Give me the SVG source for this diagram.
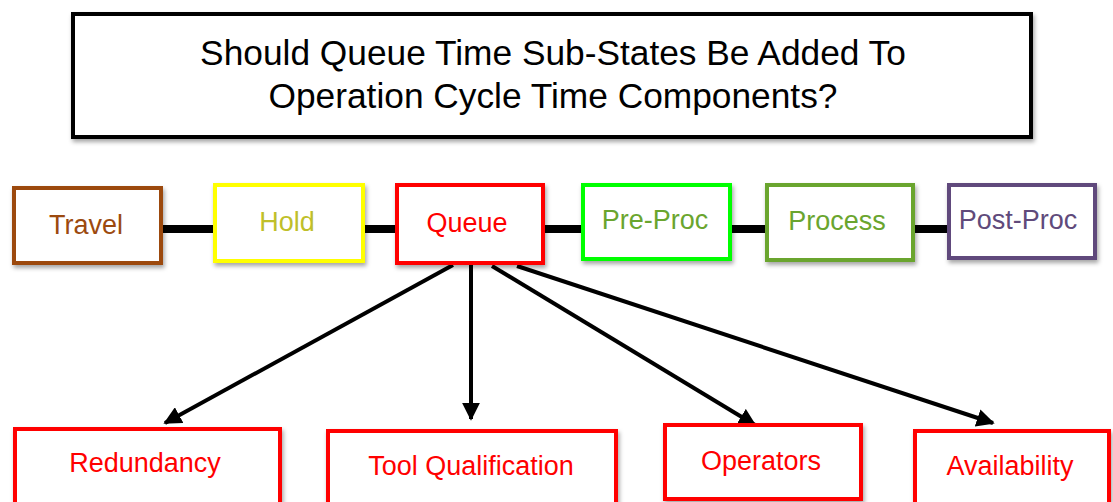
<svg xmlns="http://www.w3.org/2000/svg" width="1113" height="502" viewBox="0 0 1113 502">
  <defs>
    <filter id="shadow" x="-10%" y="-10%" width="120%" height="130%">
      <feDropShadow dx="1.5" dy="3" stdDeviation="2" flood-color="#000" flood-opacity="0.35"/>
    </filter>
    <marker id="arrow" viewBox="0 0 10 10" refX="9" refY="5" markerWidth="4.5" markerHeight="4.5" orient="auto" markerUnits="strokeWidth">
      <path d="M0,0 L10,5 L0,10 Z" fill="#000"/>
    </marker>
  </defs>
  <style>
    .box { fill: #fff; stroke-width: 4; filter: url(#shadow); }
    .lbl { font-family: "Liberation Sans", Arial, sans-serif; font-size: 27px; text-anchor: middle; }
    .title { font-family: "Liberation Sans", Arial, sans-serif; font-size: 35.3px; text-anchor: middle; fill: #000; }
    .link { stroke: #000; stroke-width: 8; fill: none; }
    .arr { stroke: #000; stroke-width: 4; fill: none; marker-end: url(#arrow); }
    .red { stroke: #ff0000; }
    .redt { fill: #ff0000; }
  </style>

  <rect width="1113" height="502" fill="#fff"/>

  <!-- question banner -->
  <g id="title">
    <rect class="box" x="73" y="14" width="958" height="123" stroke="#000"/>
    <text class="title" x="553" y="65">Should Queue Time Sub-States Be Added To</text>
    <text class="title" x="553" y="108">Operation Cycle Time Components?</text>
  </g>

  <!-- connectors -->
  <g id="connectors">
    <line class="link" x1="161" y1="229" x2="950" y2="229"/>
    <line class="arr" x1="453" y1="265" x2="165" y2="423"/>
    <line class="arr" x1="471" y1="265" x2="471" y2="419"/>
    <line class="arr" x1="492" y1="266" x2="755" y2="425"/>
    <line class="arr" x1="517" y1="266" x2="993" y2="423"/>
  </g>

  <!-- cycle time states -->
  <g id="travel">
    <rect class="box" x="14" y="188" width="147" height="75" stroke="#9c4a0f"/>
    <text class="lbl" x="86" y="234" fill="#9c4a0f">Travel</text>
  </g>
  <g id="hold">
    <rect class="box" x="215" y="185" width="148" height="76" stroke="#ffff00"/>
    <text class="lbl" x="287" y="231" fill="#bfbf2a">Hold</text>
  </g>
  <g id="queue">
    <rect class="box red" x="397" y="185" width="146" height="78"/>
    <text class="lbl redt" x="467" y="232">Queue</text>
  </g>
  <g id="preproc">
    <rect class="box" x="583" y="185" width="147" height="74" stroke="#00ff00"/>
    <text class="lbl" x="655" y="229" fill="#6aa52e">Pre-Proc</text>
  </g>
  <g id="process">
    <rect class="box" x="767" y="185" width="146" height="75" stroke="#6aa52e"/>
    <text class="lbl" x="837" y="230" fill="#6aa52e">Process</text>
  </g>
  <g id="postproc">
    <rect class="box" x="949" y="185" width="146" height="73" stroke="#604a7b"/>
    <text class="lbl" x="1018" y="229" fill="#604a7b">Post-Proc</text>
  </g>

  <!-- queue sub-states -->
  <g id="redundancy">
    <rect class="box red" x="15" y="429" width="265" height="80"/>
    <text class="lbl redt" x="145" y="472">Redundancy</text>
  </g>
  <g id="toolqual">
    <rect class="box red" x="328" y="431" width="288" height="80"/>
    <text class="lbl redt" x="471" y="475">Tool Qualification</text>
  </g>
  <g id="operators">
    <rect class="box red" x="665" y="425" width="196" height="74"/>
    <text class="lbl redt" x="761" y="470">Operators</text>
  </g>
  <g id="availability">
    <rect class="box red" x="915" y="431" width="194" height="80"/>
    <text class="lbl redt" x="1010" y="475">Availability</text>
  </g>
</svg>
